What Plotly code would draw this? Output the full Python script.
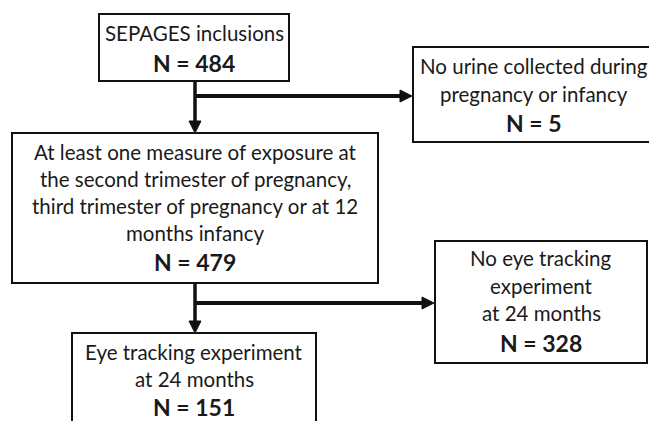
import plotly.graph_objects as go

# ---- data ----
box_titles = [
    ["SEPAGES inclusions"],
    ["No urine collected during", "pregnancy or infancy"],
    ["At least one measure of exposure at", "the second trimester of pregnancy,",
     "third trimester of pregnancy or at 12", "months infancy"],
    ["No eye tracking", "experiment", "at 24 months"],
    ["Eye tracking experiment", "at 24 months"],
]
box_counts = [484, 5, 479, 328, 151]

# ---- layout geometry (window pixels, y downwards) ----
box_x0 = [99, 413, 12, 435, 72]
box_x1 = [289, 655, 378, 647, 316]
box_y0 = [14, 47, 133, 241, 333]
box_y1 = [81, 142, 283, 363, 440]
line_y = [[33, 63], [66, 94, 123], [152, 179, 206, 233, 262],
          [258, 286, 313, 343], [352, 379, 407]]

W, H = 657, 421
OFF = 8  # page body margin
FONT = "Lato"
FS = 20.5
FSB = 23

fig = go.Figure()
shapes, annos = [], []
for i in range(len(box_counts)):
    shapes.append(dict(type="rect", xref="x", yref="y",
                       x0=box_x0[i], x1=box_x1[i], y0=box_y0[i], y1=box_y1[i],
                       line=dict(color="#111111", width=2), fillcolor="white"))
    cx = (box_x0[i] + box_x1[i]) / 2
    texts = box_titles[i] + [f"<b>N = {box_counts[i]}</b>"]
    for t, yy in zip(texts, line_y[i]):
        annos.append(dict(x=cx, y=yy, xref="x", yref="y", text=t, showarrow=False,
                          xanchor="center", yanchor="middle",
                          font=dict(family=FONT, size=FSB if t.startswith("<b>") else FS,
                                    color="#1a1a1a")))

def arrow(x0, y0, x1, y1, w=3.5):
    shapes.append(dict(type="line", xref="x", yref="y", x0=x0, y0=y0, x1=x1, y1=y1,
                       line=dict(color="#111111", width=w)))

def head(x, y, direction, L=12, hw=6):
    if direction == "down":
        p = f"M {x-hw},{y-L} L {x+hw},{y-L} L {x},{y} Z"
    else:
        p = f"M {x-L},{y-hw} L {x-L},{y+hw} L {x},{y} Z"
    shapes.append(dict(type="path", xref="x", yref="y", path=p,
                       fillcolor="#111111", line=dict(color="#111111", width=1)))

ax = (box_x0[0] + box_x1[0]) / 2 + 1
arrow(ax, box_y1[0], ax, box_y0[2] - 10)
head(ax, box_y0[2], "down")
arrow(ax, 96, box_x0[1] - 10, 96, w=4)
head(box_x0[1] - 1, 96, "right")
arrow(ax, box_y1[2], ax, box_y0[4] - 10)
head(ax, box_y0[4], "down")
arrow(ax, 303, box_x0[3] - 10, 303, w=4)
head(box_x0[3] - 1, 303, "right")

fig.update_layout(
    width=W - OFF, height=H - OFF, margin=dict(l=0, r=0, t=0, b=0),
    paper_bgcolor="white", plot_bgcolor="white",
    xaxis=dict(range=[OFF, W], visible=False, fixedrange=True),
    yaxis=dict(range=[H, OFF], visible=False, fixedrange=True),
    shapes=shapes, annotations=annos, showlegend=False,
)
fig.write_html("out.html")
